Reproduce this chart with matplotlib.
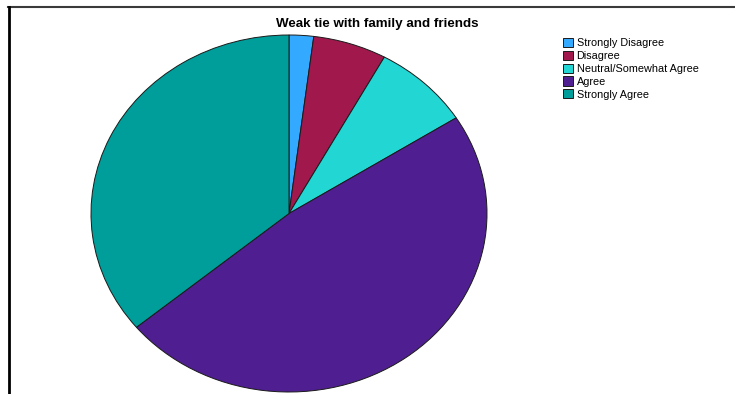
import matplotlib.pyplot as plt
from matplotlib.patches import Patch
from matplotlib.lines import Line2D

plt.rcParams['font.family'] = ['Liberation Sans', 'DejaVu Sans']

# Responses (count of respondents)
labels = ["Strongly Disagree", "Disagree", "Neutral/Somewhat Agree", "Agree", "Strongly Agree"]
counts = [1, 3, 4, 24, 18]
colors = ["#33aaff", "#a0184c", "#22d6d4", "#4f1f91", "#009e9a"]

W, H = 735, 394
fig = plt.figure(figsize=(W / 100, H / 100), dpi=100)

# elliptical pie: centre (289, 213.5), radii 198 x 178.5 px
cx, cy, rx, ry = 289, 213.5, 198, 178.5
ax = fig.add_axes([(cx - rx) / W, (H - cy - ry) / H, 2 * rx / W, 2 * ry / H])
wedges, _ = ax.pie(counts, colors=colors, startangle=90, counterclock=False,
                   wedgeprops=dict(edgecolor="#1a1a1a", linewidth=0.7))
for w in wedges:
    w.set_clip_on(False)
ax.set_aspect("auto")
ax.set_xlim(-1, 1)
ax.set_ylim(-1, 1)
ax.axis("off")

fig.text(377.5 / W, 1 - 24.5 / H, "Weak tie with family and friends", ha="center", va="center",
         fontsize=9.6, fontweight="bold")

handles = [Patch(facecolor=c, edgecolor="#1a1a1a", linewidth=0.7) for c in colors]
fig.legend(handles, labels, loc="upper left", bbox_to_anchor=(563 / W, 1 - 38 / H),
           frameon=False, fontsize=7.8, handlelength=0.95, handleheight=0.95,
           handletextpad=0.3, labelspacing=0.22, borderaxespad=0, borderpad=0)

# outer frame lines (top and left)
fig.add_artist(Line2D([8 / W, 1], [1 - 6.5 / H, 1 - 6.5 / H], color="#3a3a3a", lw=1.5))
fig.add_artist(Line2D([9 / W, 9 / W], [0, 1 - 6.5 / H], color="black", lw=2))

fig.savefig("out.png", dpi=100)
